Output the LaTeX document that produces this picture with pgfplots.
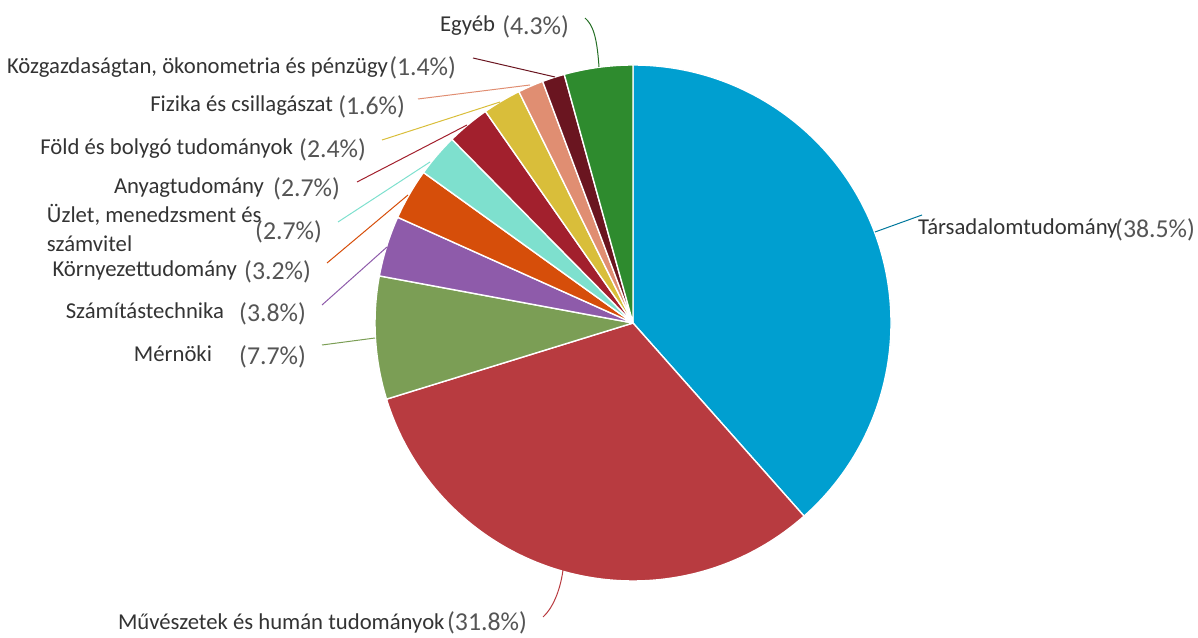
\documentclass[border=0pt]{standalone}
\usepackage{pgfplots}
\pgfplotsset{compat=1.18}
\usepackage{pgfplotstable}
\usepackage{fontspec}
\setmainfont{Carlito}

\definecolor{c0}{HTML}{009FD0}
\definecolor{c1}{HTML}{B83B40}
\definecolor{c2}{HTML}{7B9E55}
\definecolor{c3}{HTML}{8E5BAA}
\definecolor{c4}{HTML}{D64E0A}
\definecolor{c5}{HTML}{7EE0CE}
\definecolor{c6}{HTML}{A2202D}
\definecolor{c7}{HTML}{D9BE3A}
\definecolor{c8}{HTML}{E08E72}
\definecolor{c9}{HTML}{6A1520}
\definecolor{c10}{HTML}{2E8B2E}
\definecolor{txt}{HTML}{333333}
\definecolor{pctc}{HTML}{555555}

% share of each field, clockwise from 12 o'clock
\pgfplotstableread{
idx pct
0  38.5
1  31.8
2  7.7
3  3.8
4  3.2
5  2.7
6  2.7
7  2.4
8  1.6
9  1.4
10 4.3
}\piedata

\newcommand{\lab}{\fontsize{11.35}{12}\selectfont\color{txt}}
\newcommand{\pc}{\fontsize{12.9}{15}\selectfont\color{pctc}}

\begin{document}
\begin{tikzpicture}
% total and cumulative angles
\gdef\tot{0}
\foreach \i in {0,...,10}{%
  \pgfplotstablegetelem{\i}{pct}\of\piedata
  \pgfmathsetmacro\t{\tot+\pgfplotsretval}\xdef\tot{\t}}
\gdef\cum{0}
\foreach \i in {0,...,10}{%
  \pgfplotstablegetelem{\i}{pct}\of\piedata
  \pgfmathsetmacro\sa{90-360*(\cum/\tot)}
  \pgfmathsetmacro\nc{\cum+\pgfplotsretval}
  \pgfmathsetmacro\ea{90-360*(\nc/\tot)}
  \expandafter\xdef\csname sa\i\endcsname{\sa}
  \expandafter\xdef\csname ea\i\endcsname{\ea}
  \xdef\cum{\nc}}

\begin{axis}[hide axis, x=0.5pt, y=0.5pt,
  xmin=0, xmax=1198, ymin=0, ymax=637, clip=false]
\pgfplotsinvokeforeach{0,...,10}{
  \fill[c#1, draw=white, line width=0.7pt, line join=round]
    (axis cs:633,314) -- ++(\csname sa#1\endcsname:129pt)
    arc[start angle=\csname sa#1\endcsname, end angle=\csname ea#1\endcsname, radius=129pt] -- cycle;
}
% leader lines
\begin{scope}[line width=0.5pt]
\draw[c0!75!black] (axis cs:875,405) -- (axis cs:922,422);
\draw[c1] (axis cs:563,67) .. controls (axis cs:560,45) and (axis cs:552,28) .. (axis cs:543,20);
\draw[c2] (axis cs:375,299) -- (axis cs:322,292);
\draw[c3] (axis cs:387,390) -- (axis cs:322,332);
\draw[c4] (axis cs:408,442) -- (axis cs:327,374);
\draw[c5] (axis cs:430,475) -- (axis cs:338,415);
\draw[c6] (axis cs:467,512) -- (axis cs:357,455);
\draw[c7] (axis cs:500,535) -- (axis cs:382,497);
\draw[c8] (axis cs:530,552) -- (axis cs:418,538);
\draw[c9] (axis cs:555,560) -- (axis cs:473,579);
\draw[c10!80!black] (axis cs:599,570) .. controls (axis cs:597,600) and (axis cs:593,612) .. (axis cs:585,619);
\end{scope}
% labels
\tikzset{every node/.style={inner sep=0pt, outer sep=0pt}}
\node[anchor=base east] at (axis cs:495,605) {\lab Egyéb};
\node[anchor=base east] at (axis cs:569,602) {\pc (4.3\%)};
\node[anchor=base east] at (axis cs:388,563) {\lab Közgazdaságtan, ökonometria és pénzügy};
\node[anchor=base east] at (axis cs:456,561) {\pc (1.4\%)};
\node[anchor=base east] at (axis cs:333,525) {\lab Fizika és csillagászat};
\node[anchor=base east] at (axis cs:405,522) {\pc (1.6\%)};
\node[anchor=base east] at (axis cs:293,482) {\lab Föld és bolygó tudományok};
\node[anchor=base east] at (axis cs:366,479) {\pc (2.4\%)};
\node[anchor=base east] at (axis cs:264,443) {\lab Anyagtudomány};
\node[anchor=base east] at (axis cs:340,440) {\pc (2.7\%)};
\node[anchor=base west] at (axis cs:47,414) {\lab Üzlet, menedzsment és};
\node[anchor=base west] at (axis cs:47,385) {\lab számvitel};
\node[anchor=base east] at (axis cs:322,397) {\pc (2.7\%)};
\node[anchor=base east] at (axis cs:237,360) {\lab Környezettudomány};
\node[anchor=base east] at (axis cs:311,357) {\pc (3.2\%)};
\node[anchor=base east] at (axis cs:224,318) {\lab Számítástechnika};
\node[anchor=base east] at (axis cs:306,315) {\pc (3.8\%)};
\node[anchor=base east] at (axis cs:212,275) {\lab Mérnöki};
\node[anchor=base east] at (axis cs:306,272) {\pc (7.7\%)};
\node[anchor=base west] at (axis cs:918,402) {\lab Társadalomtudomány};
\node[anchor=base east] at (axis cs:1195,399) {\pc (38.5\%)};
\node[anchor=base west] at (axis cs:118,8) {\lab Művészetek és humán tudományok};
\node[anchor=base east] at (axis cs:527,7) {\pc (31.8\%)};
\end{axis}
\pgfresetboundingbox
\path (current axis.south west) rectangle (current axis.north east);
\end{tikzpicture}
\end{document}
